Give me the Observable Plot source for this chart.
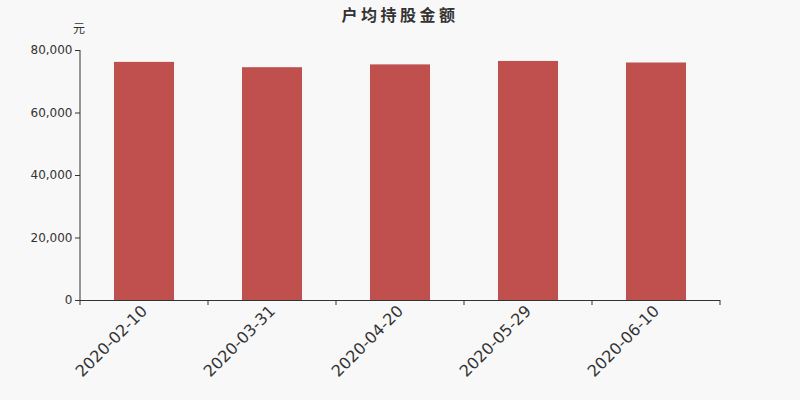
<!DOCTYPE html>
<html>
<head>
<meta charset="utf-8">
<script src="https://cdn.jsdelivr.net/npm/d3@7"></script>
<script src="https://cdn.jsdelivr.net/npm/@observablehq/plot@0.6"></script>
<style>
  html, body { margin: 0; padding: 0; background: #f8f8f8; }
  #wrap { position: relative; width: 800px; height: 400px; background: #f8f8f8; font-family: "Noto Sans CJK SC", "DejaVu Sans", sans-serif; color: #333; }
  #title { position: absolute; left: 0; top: 3px; width: 800px; text-align: center; font-size: 16px; font-weight: bold; letter-spacing: 3.5px; line-height: 22px; color: #333; }
  #unit { position: absolute; left: 73px; top: 20px; font-size: 12px; line-height: 16px; color: #333; }
</style>
</head>
<body>
<div id="wrap">
  <div id="chart"></div>
  <div id="title">户均持股金额</div>
  <div id="unit">元</div>
</div>
<script>
const dates = ["2020-02-10", "2020-03-31", "2020-04-20", "2020-05-29", "2020-06-10"];
const values = [76200, 74500, 75400, 76500, 76000];
const yTicks = [0, 20000, 40000, 60000, 80000];

const data = dates.map((d, i) => ({date: d, value: values[i]}));

const plot = Plot.plot({
  width: 800,
  height: 400,
  marginTop: 50,
  marginBottom: 100,
  marginLeft: 80,
  marginRight: 80,
  style: {background: "#f8f8f8", color: "#333", fontFamily: "DejaVu Sans, sans-serif"},
  x: {domain: dates, paddingInner: 0.531, paddingOuter: 0.2655, label: null},
  y: {domain: [0, 80000], label: null},
  marks: [
    Plot.barY(data, {x: "date", y: "value", fill: "#c0504e"}),
    Plot.axisY({ticks: yTicks, tickFormat: d3.format(","), tickSize: 5, tickPadding: 3, fontSize: 12, stroke: "#333", fill: "#333"}),
    Plot.axisX({tickSize: 0, tickRotate: -45, tickPadding: 8, fontSize: 16, fill: "#333"}),
    Plot.ruleY([0], {stroke: "#333"})
  ]
});

// axis line on the left and band-boundary ticks on the bottom, from the library's scales
const xs = plot.scale("x");
const ys = plot.scale("y");
const svg = d3.select(plot);
const y0 = ys.apply(0), yTop = ys.apply(80000);
const xLeft = xs.range[0];
svg.append("line").attr("x1", xLeft).attr("x2", xLeft).attr("y1", yTop).attr("y2", y0)
  .attr("stroke", "#333");
const step = xs.step;
const bounds = d3.range(dates.length + 1).map(i => xs.range[0] + i * step);
svg.selectAll(".btick").data(bounds).join("line")
  .attr("x1", d => d).attr("x2", d => d).attr("y1", y0).attr("y2", y0 + 5)
  .attr("stroke", "#333");

document.getElementById("chart").appendChild(plot);
</script>
</body>
</html>
